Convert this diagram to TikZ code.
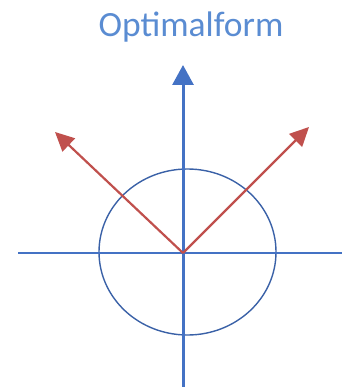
\documentclass[tikz,border=0pt]{standalone}
\usepackage{fontspec}
\setmainfont{Carlito}
\usetikzlibrary{arrows.meta}
\definecolor{axisblue}{RGB}{68,114,196}
\definecolor{titleblue}{RGB}{90,140,210}
\definecolor{vecred}{RGB}{192,80,77}
\tikzset{
  axis/.style={axisblue,line width=2.6pt},
  axisarrow/.style={axisblue,line width=3pt,-{Triangle[length=20pt,width=21pt]}},
  vec/.style={vecred,line width=2.2pt,-{Triangle[length=19pt,width=18pt]}},
  ring/.style={axisblue!85!black,line width=1.4pt},
  every node/.style={font=\fontsize{35.5}{40}\selectfont}
}
\begin{document}
\begin{tikzpicture}[x=1pt,y=-1pt]
\useasboundingbox (0,0) rectangle (351,387);
\coordinate (O) at (183,253);
\coordinate (L) at (18,253);
\coordinate (R) at (342,253);
\coordinate (B) at (183,387);
\coordinate (T) at (183,65);
\coordinate (VL) at (55,132);
\coordinate (VR) at (309,127);
\node[titleblue] (title) at (191,27) {Optimalform};
\draw[ring] (187.5,252) ellipse [x radius=88.5, y radius=83];
\draw[axis] (L) -- (R);
\draw[axisarrow] (B) -- (T);
\draw[vec] (O) -- (VL);
\draw[vec] (O) -- (VR);
\end{tikzpicture}
\end{document}
